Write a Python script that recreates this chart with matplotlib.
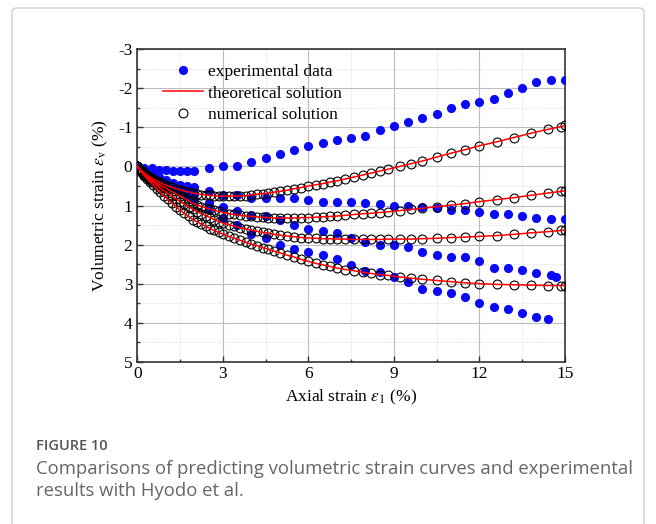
import numpy as np
import matplotlib.pyplot as plt
from matplotlib.patches import FancyBboxPatch
from matplotlib.ticker import MultipleLocator

plt.rcParams['font.family'] = ['Liberation Serif', 'DejaVu Serif']
plt.rcParams['mathtext.fontset'] = 'stix'

exp_x_a = [0, 0.25, 0.5, 0.75, 1.0, 1.25, 1.5, 1.75, 2.0, 2.5, 3.0, 3.5, 4.0, 4.5, 5.0, 5.5, 6.0,
           6.5, 7.0, 7.5, 8.0, 8.5, 9.0, 9.5, 10, 10.5, 11, 11.5, 12, 12.5, 13, 13.5, 14, 14.5, 15]
exp_y_a = [0, 0.03, 0.05, 0.08, 0.1, 0.12, 0.12, 0.12, 0.12, 0.04, -0.01, -0.02, -0.12, -0.21,
           -0.31, -0.43, -0.53, -0.61, -0.68, -0.73, -0.78, -0.94, -1.04, -1.14, -1.24, -1.34,
           -1.49, -1.59, -1.65, -1.74, -1.89, -2.0, -2.15, -2.21, -2.21]

exp_x_b = [0.25, 0.5, 0.75, 1.0, 1.25, 1.5, 1.75, 2.0, 2.5, 3.0, 3.5, 4.0, 4.5, 5.0, 5.5, 6.0, 6.5,
           7.0, 7.5, 8.0, 8.5, 9.0, 9.5, 10, 10.5, 11, 11.5, 12, 12.5, 13, 13.5, 14, 14.5, 15]
exp_y_b = [0.1, 0.2, 0.28, 0.35, 0.42, 0.48, 0.5, 0.53, 0.63, 0.74, 0.74, 0.81, 0.81, 0.81, 0.81,
           0.85, 0.9, 0.9, 0.91, 0.94, 0.96, 1.0, 1.0, 1.05, 1.07, 1.11, 1.11, 1.17, 1.21, 1.21,
           1.26, 1.31, 1.35, 1.35]

exp_x_c = [0.25, 0.5, 0.75, 1.0, 1.25, 1.5, 1.75, 2.0, 2.5, 3.0, 3.5, 4.0, 4.5, 5.0, 5.5, 6.0, 6.5,
           7.0, 7.5, 8.0, 8.5, 9.0, 9.5, 10, 10.5, 11, 11.5, 12, 12.5, 13, 13.5, 14, 14.5, 14.7]
exp_y_c = [0.1, 0.22, 0.32, 0.42, 0.5, 0.58, 0.63, 0.7, 0.93, 1.03, 1.14, 1.24, 1.28, 1.37, 1.51,
           1.61, 1.66, 1.71, 1.83, 1.94, 2.0, 2.02, 2.07, 2.18, 2.28, 2.33, 2.33, 2.43, 2.59, 2.59,
           2.64, 2.73, 2.77, 2.83]

exp_x_d = [0.25, 0.5, 0.75, 1.0, 1.25, 1.5, 1.75, 2.0, 2.5, 3.0, 3.5, 4.0, 4.5, 5.0, 5.5, 6.0, 6.5,
           7.0, 7.5, 8.0, 8.5, 9.0, 9.5, 10, 10.5, 11, 11.5, 12, 12.5, 13, 13.5, 14, 14.4]
exp_y_d = [0.12, 0.25, 0.36, 0.47, 0.55, 0.65, 0.75, 0.85, 1.1, 1.31, 1.51, 1.72, 1.83, 2.0, 2.12,
           2.18, 2.27, 2.36, 2.52, 2.68, 2.71, 2.83, 2.95, 3.14, 3.19, 3.24, 3.35, 3.5, 3.61, 3.65,
           3.75, 3.85, 3.9]

# numerical solution points (the theoretical curve runs through them)
num_x = [0, 0.08, 0.16, 0.25, 0.35, 0.45, 0.56, 0.68, 0.8, 0.93, 1.06, 1.2, 1.35, 1.5, 1.65, 1.8,
         1.95, 2.1, 2.25, 2.4, 2.55, 2.7, 2.85, 3.0, 3.2, 3.4, 3.6, 3.8, 4.0, 4.2, 4.4, 4.6, 4.8,
         5.0, 5.25, 5.5, 5.75, 6.0, 6.25, 6.5, 6.75, 7.0, 7.3, 7.6, 7.9, 8.2, 8.5, 8.8, 9.2, 9.6,
         10.0, 10.5, 11.0, 11.5, 12.0, 12.6, 13.2, 13.8, 14.4, 14.85, 15.0]
num_y_1 = [0, 0.06, 0.11, 0.17, 0.22, 0.27, 0.32, 0.37, 0.41, 0.46, 0.50, 0.53, 0.57, 0.60, 0.63,
           0.65, 0.68, 0.70, 0.72, 0.73, 0.74, 0.75, 0.76, 0.76, 0.76, 0.76, 0.76, 0.75, 0.73,
           0.71, 0.70, 0.68, 0.66, 0.64, 0.61, 0.57, 0.54, 0.50, 0.47, 0.44, 0.40, 0.37, 0.32,
           0.27, 0.22, 0.17, 0.12, 0.07, 0.00, -0.07, -0.14, -0.24, -0.34, -0.43, -0.53, -0.63,
           -0.74, -0.85, -0.95, -1.02, -1.05]
num_y_2 = [0, 0.07, 0.13, 0.19, 0.25, 0.31, 0.37, 0.43, 0.48, 0.53, 0.58, 0.64, 0.70, 0.76, 0.82,
           0.88, 0.94, 0.99, 1.03, 1.06, 1.09, 1.12, 1.15, 1.18, 1.21, 1.23, 1.25, 1.27, 1.28,
           1.29, 1.30, 1.31, 1.32, 1.32, 1.32, 1.32, 1.31, 1.31, 1.30, 1.29, 1.28, 1.27, 1.25,
           1.23, 1.21, 1.20, 1.18, 1.16, 1.13, 1.10, 1.07, 1.03, 0.99, 0.95, 0.90, 0.85, 0.80,
           0.74, 0.68, 0.64, 0.62]
num_y_3 = [0, 0.07, 0.14, 0.21, 0.28, 0.35, 0.41, 0.48, 0.55, 0.62, 0.69, 0.76, 0.83, 0.90, 0.97,
           1.03, 1.10, 1.16, 1.21, 1.26, 1.31, 1.36, 1.41, 1.45, 1.49, 1.53, 1.57, 1.60, 1.63,
           1.66, 1.69, 1.71, 1.74, 1.76, 1.78, 1.80, 1.82, 1.83, 1.84, 1.85, 1.85, 1.86, 1.86,
           1.87, 1.87, 1.87, 1.87, 1.86, 1.86, 1.86, 1.85, 1.84, 1.82, 1.81, 1.79, 1.77, 1.74,
           1.70, 1.67, 1.64, 1.63]
num_y_4 = [0, 0.08, 0.16, 0.24, 0.32, 0.40, 0.48, 0.57, 0.66, 0.75, 0.84, 0.93, 1.03, 1.12, 1.20,
           1.28, 1.36, 1.42, 1.48, 1.53, 1.59, 1.64, 1.69, 1.73, 1.79, 1.84, 1.89, 1.94, 1.99,
           2.03, 2.08, 2.12, 2.17, 2.21, 2.27, 2.32, 2.38, 2.43, 2.48, 2.52, 2.56, 2.60, 2.64,
           2.67, 2.71, 2.74, 2.77, 2.79, 2.83, 2.86, 2.89, 2.92, 2.95, 2.98, 3.00, 3.02, 3.03,
           3.04, 3.05, 3.05, 3.05]

y_ticks = [-3, -2, -1, 0, 1, 2, 3, 4, 5]
x_ticks = [0, 3, 6, 9, 12, 15]

fig = plt.figure(figsize=(6.56, 5.24), dpi=100)

# card frame
card = FancyBboxPatch((12 / 656, -0.05), 632 / 656, 1.05 - 8 / 524,
                      boxstyle='round,pad=0,rounding_size=0.008',
                      transform=fig.transFigure, facecolor='none',
                      edgecolor='#cfcfcf', linewidth=1.0, zorder=-1)
fig.patches.append(card)

ax = fig.add_axes([137.3 / 656, 1 - 361.7 / 524, 427.7 / 656, 312.4 / 524])

exp_sets = [(exp_x_a, exp_y_a), (exp_x_b, exp_y_b), (exp_x_c, exp_y_c), (exp_x_d, exp_y_d)]
for i, (ex, ey) in enumerate(exp_sets):
    ax.plot(ex, ey, 'o', color='#0a0af5', markersize=6.6, markeredgewidth=0,
            label='experimental data' if i == 0 else None, zorder=3)

for i, ny in enumerate([num_y_1, num_y_2, num_y_3, num_y_4]):
    ax.plot(num_x, ny, 'o', markerfacecolor='none', markeredgecolor='black',
            markersize=6.4, markeredgewidth=0.8, zorder=4,
            label='numerical solution' if i == 0 else None)
    ax.plot(num_x, ny, '-', color='red', linewidth=1.1, zorder=5,
            label='theoretical solution' if i == 0 else None)

ax.set_xlim(0, 15)
ax.set_ylim(5, -3)
ax.set_xticks(x_ticks)
ax.set_yticks(y_ticks)
ax.set_yticklabels([str(t) for t in y_ticks])
ax.xaxis.set_minor_locator(MultipleLocator(1.5))
ax.yaxis.set_minor_locator(MultipleLocator(0.5))
ax.tick_params(which='both', direction='in', top=False, right=False, labelsize=12.5,
               color='#333333', width=1.0)
ax.tick_params(which='major', length=4)
ax.tick_params(which='minor', length=2.5)
ax.tick_params(axis='x', pad=3)
ax.grid(True, which='major', color='#bdbdbd', linewidth=0.8)
ax.grid(True, which='minor', color='#d8d8d8', linewidth=0.7, linestyle=':')
ax.set_axisbelow(True)
for s in ax.spines.values():
    s.set_color('#333333')
    s.set_linewidth(1.2)

ax.set_xlabel(r'Axial strain $\varepsilon_1$ (%)', fontsize=12.5, labelpad=4)
ax.set_ylabel(r'Volumetric strain $\varepsilon_{\rm v}$ (%)', fontsize=12.5, labelpad=6)

h, l = ax.get_legend_handles_labels()
order = [l.index('experimental data'), l.index('theoretical solution'), l.index('numerical solution')]
ax.legend([h[k] for k in order], [l[k] for k in order], loc='upper left',
          bbox_to_anchor=(0.045, 0.975), frameon=False, fontsize=12.5,
          handlelength=2.3, handletextpad=0.25, labelspacing=0.3, borderaxespad=0)

fig.text(36 / 656, 1 - 446 / 524, 'FIGURE 10', fontsize=10.5, color='#555555',
         family=['Open Sans', 'DejaVu Sans'], weight='semibold', va='center')
fig.text(36 / 656, 1 - 469 / 524,
         'Comparisons of predicting volumetric strain curves and experimental',
         fontsize=13.3, color='#666666', family=['Open Sans', 'DejaVu Sans'], va='center')
fig.text(36 / 656, 1 - 491 / 524, 'results with Hyodo et al.',
         fontsize=13.3, color='#666666', family=['Open Sans', 'DejaVu Sans'], va='center')

fig.savefig('out.png', dpi=100)
